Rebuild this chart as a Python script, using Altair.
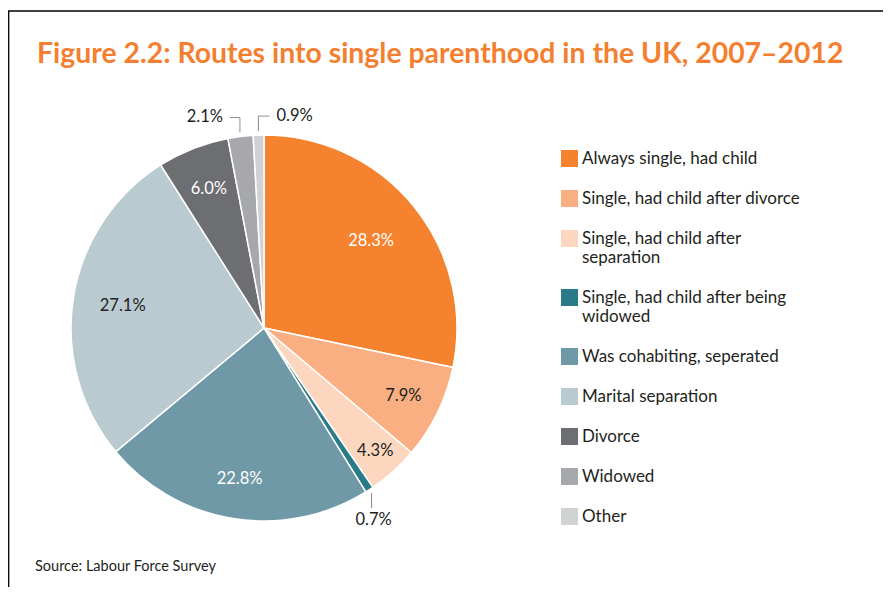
import math
import json
import altair as alt
import pandas as pd

# ---------------- data ----------------
title_text = "Figure 2.2: Routes into single parenthood in the UK, 2007–2012"
source_text = "Source: Labour Force Survey"
routes = [
    "Always single, had child",
    "Single, had child after divorce",
    "Single, had child after separation",
    "Single, had child after being widowed",
    "Was cohabiting, seperated",
    "Marital separation",
    "Divorce",
    "Widowed",
    "Other",
]
shares = [28.3, 7.9, 4.3, 0.7, 22.8, 27.1, 6.0, 2.1, 0.9]
share_labels = ["28.3%", "7.9%", "4.3%", "0.7%", "22.8%", "27.1%", "6.0%", "2.1%", "0.9%"]

# ---------------- styles ----------------
palette = ["#F5822F", "#F9AF82", "#FCD6BF", "#2A7B88", "#6F99A6",
           "#B9CAD1", "#6D6E72", "#A7A8AC", "#D1D2D4"]
legend_wrap = {
    "Single, had child after separation": ["Single, had child after", "separation"],
    "Single, had child after being widowed": ["Single, had child after being", "widowed"],
}
white_text = ["Always single, had child", "Was cohabiting, seperated", "Divorce"]
inner_radius_of = {
    "Always single, had child": 138,
    "Single, had child after divorce": 155,
    "Single, had child after separation": 166,
    "Was cohabiting, seperated": 153,
    "Marital separation": 143,
    "Divorce": 150,
}
leader_style = {
    "Single, had child after being widowed": "down",
    "Widowed": "left",
    "Other": "right",
}
TXT = "#231F20"
FONT = "Lato"
W, H = 512, 490
R = 193
R0 = 197

df = pd.DataFrame({"route": routes, "share": shares, "label": share_labels,
                   "order": list(range(len(routes)))})

# ---------------- encodings ----------------
label_expr = ""
for k, lines in legend_wrap.items():
    label_expr += f"datum.label == {json.dumps(k)} ? {json.dumps(lines)} : "
label_expr += "datum.label"

color = alt.Color(
    "route:N",
    scale=alt.Scale(domain=routes, range=palette),
    legend=alt.Legend(
        orient="none", legendX=553, legendY=67, title=None, padding=0,
        symbolType="square", symbolSize=289, symbolStrokeWidth=0,
        labelFont=FONT, labelFontSize=17, labelColor=TXT, labelLimit=0,
        labelOffset=4, rowPadding=22, labelExpr=label_expr,
    ),
)
theta = alt.Theta("share:Q", stack=True)
order = alt.Order("order:Q")
xs = alt.Scale(domain=[-W / 2, W / 2], nice=False, zero=False)
ys = alt.Scale(domain=[-H / 2, H / 2], nice=False, zero=False)

base = alt.Chart(df)
pie = base.mark_arc(outerRadius=R, stroke="white", strokeWidth=1.5).encode(
    theta=theta, color=color, order=order
)

inner_layers = []
for rad in sorted(set(inner_radius_of.values())):
    members = [r for r, v in inner_radius_of.items() if v == rad]
    inner_layers.append(
        base.transform_calculate(
            txt=f"indexof({json.dumps(members)}, datum.route) >= 0 ? datum.label : ''"
        ).mark_text(radius=rad, font=FONT, fontSize=16.5).encode(
            theta=theta, order=order, text="txt:N",
            color=alt.condition(alt.FieldOneOfPredicate(field="route", oneOf=white_text),
                                alt.value("white"), alt.value(TXT)),
        )
    )

# leader lines and outside labels, derived from the share angles
total = sum(shares)
cum = 0.0
seg_rows, lab_rows = [], []
for route, s, lab in zip(routes, shares, share_labels):
    mid = 2 * math.pi * (cum + s / 2) / total
    cum += s
    if route not in leader_style:
        continue
    sx, sy = R0 * math.sin(mid), R0 * math.cos(mid)
    st = leader_style[route]
    if st == "down":
        seg_rows.append(dict(x=sx, y=sy, x2=sx, y2=sy - 15))
        lab_rows.append(dict(x=sx + 2, y=sy - 27, label=lab, align="center"))
    elif st == "left":
        seg_rows.append(dict(x=sx, y=sy, x2=sx, y2=sy + 15))
        seg_rows.append(dict(x=sx, y=sy + 15, x2=sx - 10, y2=sy + 15))
        lab_rows.append(dict(x=sx - 17, y=sy + 15, label=lab, align="right"))
    else:
        seg_rows.append(dict(x=sx, y=sy, x2=sx, y2=sy + 15))
        seg_rows.append(dict(x=sx, y=sy + 15, x2=sx + 11, y2=sy + 15))
        lab_rows.append(dict(x=sx + 18, y=sy + 15, label=lab, align="left"))

seg_df = pd.DataFrame(seg_rows)
lab_df = pd.DataFrame(lab_rows)

leaders = alt.Chart(seg_df).mark_rule(color="#8C8C8C", strokeWidth=1).encode(
    x=alt.X("x:Q", scale=xs, axis=None), x2="x2:Q",
    y=alt.Y("y:Q", scale=ys, axis=None), y2="y2:Q",
)
outer_layers = []
for al in ["left", "right", "center"]:
    sub = lab_df[lab_df["align"] == al]
    if len(sub) == 0:
        continue
    outer_layers.append(
        alt.Chart(sub).mark_text(align=al, baseline="middle", font=FONT, fontSize=16.5, color=TXT).encode(
            x=alt.X("x:Q", scale=xs, axis=None),
            y=alt.Y("y:Q", scale=ys, axis=None),
            text="label:N",
        )
    )

one = pd.DataFrame({"t": [source_text]})
source = alt.Chart(one).mark_text(align="left", baseline="middle", font=FONT,
                                  fontSize=14.5, color=TXT).encode(
    x=alt.value(27), y=alt.value(484), text="t:N"
)
frame_top = alt.Chart(one).mark_rule(color="black", strokeWidth=1.3).encode(
    x=alt.value(0), x2=alt.value(W + 363), y=alt.value(-72)
)
frame_left = alt.Chart(one).mark_rule(color="black", strokeWidth=1.3).encode(
    x=alt.value(0.7), y=alt.value(-72), y2=alt.value(H + 14)
)

chart = alt.layer(pie, *inner_layers, leaders, *outer_layers, source, frame_top, frame_left).properties(
    width=W, height=H,
    title=alt.Title(title_text, anchor="start", frame="group", font="Lato",
                    fontSize=28.4, fontWeight="bold", color="#F47F30", dx=29, offset=-59),
    autosize=alt.AutoSizeParams(type="none"),
    padding={"left": 0, "top": 75, "right": 363, "bottom": 14},
).configure_view(stroke=None)

chart.save("out.html", embed_options={"renderer": "svg", "actions": False})
